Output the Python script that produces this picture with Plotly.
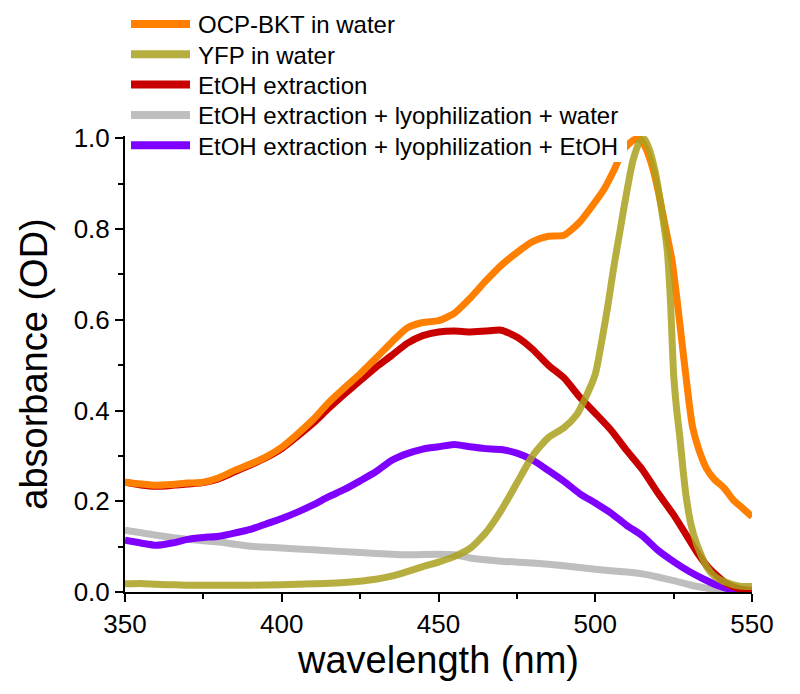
import plotly.graph_objects as go

# OCP-BKT in water
ocp_wl = [350, 355, 360, 365, 370, 375, 380, 385, 390, 395, 400, 405, 410, 415, 420, 425,
          430, 435, 440, 445, 450, 455, 460, 465, 470, 475, 480, 485, 490, 495, 500, 503,
          506, 509, 512, 514, 516, 518.5, 520.5, 522.5, 524.5, 526.5, 528.5, 531, 533,
          535.5, 538, 541, 544, 547, 550]
ocp_abs = [0.242, 0.238, 0.235, 0.237, 0.240, 0.242, 0.252, 0.268, 0.282, 0.298, 0.319,
           0.348, 0.380, 0.418, 0.450, 0.481, 0.515, 0.550, 0.582, 0.594, 0.598, 0.614,
           0.647, 0.685, 0.720, 0.748, 0.772, 0.784, 0.786, 0.815, 0.860, 0.890, 0.930,
           0.975, 0.995, 1.000, 0.980, 0.930, 0.870, 0.800, 0.730, 0.620, 0.500, 0.365,
           0.315, 0.272, 0.248, 0.230, 0.203, 0.185, 0.166]

# YFP in water
yfp_wl = [350, 355, 360, 365, 370, 380, 390, 400, 410, 420, 430, 435, 440, 445, 450, 455,
          460, 465, 470, 475, 480, 485, 490, 494, 497, 500, 502, 504, 506, 508, 510, 512,
          514, 515.5, 517, 519, 521, 523, 524, 525, 526, 527, 528, 529, 530.5, 532.3,
          535.5, 538, 541, 546, 550]
yfp_abs = [0.018, 0.019, 0.017, 0.016, 0.015, 0.015, 0.015, 0.016, 0.018, 0.021, 0.028,
           0.035, 0.045, 0.056, 0.066, 0.078, 0.096, 0.130, 0.180, 0.240, 0.300, 0.340,
           0.362, 0.390, 0.430, 0.480, 0.550, 0.630, 0.720, 0.800, 0.880, 0.950, 0.990,
           1.000, 0.980, 0.930, 0.850, 0.750, 0.640, 0.480, 0.400, 0.340, 0.270, 0.210,
           0.150, 0.107, 0.056, 0.035, 0.023, 0.013, 0.012]

# EtOH extraction
etoh_wl = [350, 355, 360, 365, 370, 375, 380, 385, 390, 395, 400, 405, 410, 415, 420, 425,
           430, 435, 440, 445, 450, 455, 460, 465, 470, 475, 480, 485, 490, 495, 500, 505,
           510, 515, 520, 525, 530, 533, 536, 539, 542, 545, 548, 550]
etoh_abs = [0.242, 0.236, 0.233, 0.235, 0.238, 0.241, 0.250, 0.265, 0.280, 0.296, 0.316,
            0.343, 0.372, 0.405, 0.436, 0.466, 0.495, 0.521, 0.548, 0.565, 0.573, 0.575,
            0.573, 0.575, 0.577, 0.562, 0.535, 0.500, 0.472, 0.430, 0.394, 0.357, 0.312,
            0.270, 0.218, 0.170, 0.115, 0.082, 0.055, 0.035, 0.018, 0.009, 0.005, 0.004]

# EtOH extraction + lyophilization + water
lyo_water_wl = [350, 360, 370, 380, 390, 400, 410, 420, 430, 440, 450, 455, 460, 470, 480,
                490, 500, 510, 515, 520, 525, 530, 535, 540, 542]
lyo_water_abs = [0.136, 0.125, 0.116, 0.110, 0.101, 0.097, 0.093, 0.089, 0.085, 0.082,
                 0.083, 0.082, 0.075, 0.068, 0.064, 0.058, 0.050, 0.044, 0.040, 0.033,
                 0.025, 0.016, 0.009, 0.003, 0.000]

# EtOH extraction + lyophilization + EtOH
lyo_etoh_wl = [350, 355, 360, 365, 370, 375, 380, 385, 390, 395, 400, 405, 410, 415, 420,
               425, 430, 435, 440, 445, 450, 455, 460, 465, 470, 475, 480, 485, 490, 495,
               500, 505, 510, 515, 520, 525, 530, 535, 540, 546]
lyo_etoh_abs = [0.114, 0.108, 0.103, 0.108, 0.116, 0.120, 0.123, 0.130, 0.138, 0.150,
                0.162, 0.176, 0.192, 0.210, 0.226, 0.245, 0.265, 0.290, 0.305, 0.315,
                0.320, 0.325, 0.320, 0.316, 0.314, 0.306, 0.291, 0.268, 0.244, 0.217,
                0.196, 0.174, 0.147, 0.124, 0.092, 0.067, 0.045, 0.027, 0.012, 0.000]

legend_names = ["OCP-BKT in water", "YFP in water", "EtOH extraction",
                "EtOH extraction + lyophilization + water",
                "EtOH extraction + lyophilization + EtOH"]
colors = {
    "OCP-BKT in water": "#FF7F00",
    "YFP in water": "rgba(170,160,30,0.85)",
    "EtOH extraction": "#C80000",
    "EtOH extraction + lyophilization + water": "#BEBEBE",
    "EtOH extraction + lyophilization + EtOH": "#7F00FF",
}

font = "Arial, Liberation Sans, sans-serif"
W, H = 800, 694
OFF = 8  # the html body margin shifts the figure by 8px
# plot area wanted on screen: x 125..752, y 136..592
L, R, T, B = 125 - OFF, W - 752 + OFF, 136 - OFF, H - 592 + OFF


# screen pixel -> paper helpers for the hand-made legend
def px_x(px):
    return (px - OFF - L) / (W - L - R)


def px_y(py):
    return (H - B - (py - OFF)) / (H - T - B)


# drawing order (olive on top, grey at bottom)
traces = [
    (lyo_water_wl, lyo_water_abs, legend_names[3]),
    (lyo_etoh_wl, lyo_etoh_abs, legend_names[4]),
    (etoh_wl, etoh_abs, legend_names[2]),
    (ocp_wl, ocp_abs, legend_names[0]),
    (yfp_wl, yfp_abs, legend_names[1]),
]

fig = go.Figure()
for wl, ab, name in traces:
    fig.add_trace(go.Scatter(
        x=wl, y=ab, name=name, mode="lines",
        line=dict(color=colors[name], width=7, shape="spline", smoothing=0.6),
        showlegend=False))

# legend: white box over the plot, then lines and labels
shapes = [dict(type="rect", xref="paper", yref="paper",
               x0=px_x(127), x1=px_x(627), y0=px_y(162), y1=px_y(8),
               fillcolor="white", line=dict(width=0), layer="above")]
annotations = []
for i, name in enumerate(legend_names):
    yc = 24 + i * 30.3
    shapes.append(dict(type="line", xref="paper", yref="paper",
                       x0=px_x(131), x1=px_x(190), y0=px_y(yc), y1=px_y(yc),
                       line=dict(color=colors[name], width=8), layer="above"))
    annotations.append(dict(text=name, xref="paper", yref="paper",
                            x=px_x(196), y=px_y(yc + 1), xanchor="left", yanchor="middle",
                            showarrow=False, font=dict(family=font, size=24, color="black")))

axis_common = dict(
    showline=True, linewidth=2, linecolor="black", automargin=False,
    ticks="outside", ticklen=8, tickwidth=2, tickcolor="black",
    showgrid=False, zeroline=False,
    tickfont=dict(family=font, size=26, color="black"),
)

fig.update_layout(
    template="none",
    width=W, height=H,
    margin=dict(l=L, r=R, t=T, b=B),
    paper_bgcolor="white", plot_bgcolor="white",
    font=dict(family=font, color="black"),
    xaxis=dict(
        range=[350, 550], tickvals=[350, 400, 450, 500, 550],
        minor=dict(dtick=25, ticks="outside", ticklen=5, tickwidth=2, tickcolor="black"),
        title=dict(text="wavelength (nm)", font=dict(family=font, size=38), standoff=4),
        **axis_common),
    yaxis=dict(
        range=[0, 1.005], tickvals=[0, 0.2, 0.4, 0.6, 0.8, 1.0], tickformat=".1f",
        minor=dict(dtick=0.1, ticks="outside", ticklen=5, tickwidth=2, tickcolor="black"),
        title=dict(text="absorbance (OD)", font=dict(family=font, size=38), standoff=14),
        **axis_common),
    shapes=shapes,
    annotations=annotations,
    showlegend=False,
)

fig.write_html("out.html")
